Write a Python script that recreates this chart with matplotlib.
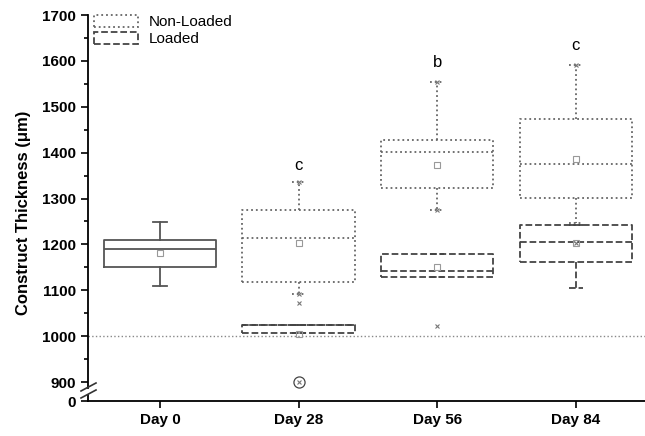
import matplotlib.pyplot as plt
from matplotlib.patches import Patch
from matplotlib.lines import Line2D

plt.rcParams['font.family'] = ['Liberation Sans', 'DejaVu Sans']

days = ["Day 0", "Day 28", "Day 56", "Day 84"]

# Day 0 (control, solid)
ctrl = dict(q1=1150, med=1189, q3=1209, whislo=1109, whishi=1249, mean=1181)

# non-loaded (dotted), days 28, 56, 84
nl_q1 = [1117, 1322, 1302]
nl_med = [1215, 1402, 1376]
nl_q3 = [1274, 1428, 1474]
nl_lo = [1091, 1276, 1246]
nl_hi = [1335, 1554, 1591]
nl_mean = [1204, 1374, 1387]
nl_extremes = [[1335, 1091, 1072], [1554, 1276], [1591]]

# loaded (dashed), days 28, 56, 84
ld_q1 = [1007, 1128, 1161]
ld_med = [1024, 1143, 1206]
ld_q3 = [1024, 1180, 1243]
ld_lo = [1007, 1128, 1104]
ld_hi = [1024, 1180, 1243]
ld_mean = [1005, 1150, 1202]
ld_extremes = [[900], [1022], [1202]]
ld_outliers = [[900], [], []]

letters = ["c", "b", "c"]
letter_y = [1372, 1596, 1633]

fig = plt.figure(figsize=(6.45, 4.36), dpi=100)
ax = fig.add_axes([88/645, 1-388/436, 557/645, 373/436])
axb = fig.add_axes([88/645, 1-401/436, 557/645, 6/436], sharex=ax)

dot_col = '#666666'
dash_col = '#444444'
solid_col = '#555555'
W = 0.81

# reference line at 1000
ax.axhline(1000, color='#888888', ls=':', lw=1.0, zorder=1)

ax.bxp([dict(ctrl, fliers=[])], positions=[0], widths=W, showmeans=True,
       boxprops=dict(color=solid_col, lw=1.3),
       medianprops=dict(color=solid_col, lw=1.3),
       whiskerprops=dict(color=solid_col, lw=1.3),
       capprops=dict(color=solid_col, lw=1.3),
       capwidths=0.1,
       meanprops=dict(marker='s', markersize=4, markerfacecolor='none',
                      markeredgecolor='#999999', markeredgewidth=0.8))

pos = [1, 2, 3]
nl_stats = [dict(q1=nl_q1[i], med=nl_med[i], q3=nl_q3[i], whislo=nl_lo[i],
                 whishi=nl_hi[i], mean=nl_mean[i], fliers=[]) for i in range(3)]
ld_stats = [dict(q1=ld_q1[i], med=ld_med[i], q3=ld_q3[i], whislo=ld_lo[i],
                 whishi=ld_hi[i], mean=ld_mean[i], fliers=ld_outliers[i]) for i in range(3)]

for stats, col, ls in [(nl_stats, dot_col, ':'), (ld_stats, dash_col, '--')]:
    lp = dict(color=col, lw=1.3, ls=ls)
    ax.bxp(stats, positions=pos, widths=W, showmeans=True,
           boxprops=lp, medianprops=lp, whiskerprops=lp, capprops=lp,
           capwidths=0.1,
           flierprops=dict(marker='o', markersize=8, markerfacecolor='none',
                           markeredgecolor='#444444', markeredgewidth=0.9),
           meanprops=dict(marker='s', markersize=4, markerfacecolor='none',
                          markeredgecolor='#999999', markeredgewidth=0.8))

for extremes in [nl_extremes, ld_extremes]:
    for p, vals in zip(pos, extremes):
        ax.plot([p]*len(vals), vals, ls='none', marker='x', markersize=3.5,
                color='#777777', markeredgewidth=0.8)

for p, t, y in zip(pos, letters, letter_y):
    ax.text(p, y, t, ha='center', va='center', fontsize=12)

ax.set_xlim(-0.52, 3.5)
ax.set_ylim(887, 1700)
ax.set_yticks(range(900, 1701, 100))
ax.set_yticks(range(950, 1700, 100), minor=True)
ax.tick_params(axis='y', which='major', length=5, width=1.2, labelsize=11)
ax.tick_params(axis='y', which='minor', length=3, width=1.2)
ax.tick_params(axis='x', bottom=False, labelbottom=False)
for lab in ax.get_yticklabels():
    lab.set_fontweight('bold')
for s in ['top', 'right', 'bottom']:
    ax.spines[s].set_visible(False)
ax.spines['left'].set_linewidth(1.3)
ax.set_ylabel("Construct Thickness (μm)", fontsize=12, fontweight='bold')
ax.yaxis.set_label_coords(-0.102, 0.469)

axb.set_ylim(0, 10)
axb.set_yticks([0])
axb.set_xticks(range(len(days)))
axb.set_xticklabels(days)
axb.tick_params(axis='both', length=5, width=1.2, labelsize=11)
for lab in axb.get_xticklabels() + axb.get_yticklabels():
    lab.set_fontweight('bold')
for s in ['top', 'right']:
    axb.spines[s].set_visible(False)
axb.spines['left'].set_linewidth(1.3)
axb.spines['bottom'].set_linewidth(1.3)
axb.patch.set_visible(False)

# axis break marks
for y0 in [391, 398]:
    fig.add_artist(Line2D([81/645, 96/645], [1-y0/436, 1-(y0-8)/436],
                          color='#333333', lw=1.2))

handles = [Patch(facecolor='none', edgecolor=dot_col, ls=':', lw=1.3, label='Non-Loaded'),
           Patch(facecolor='none', edgecolor=dash_col, ls='--', lw=1.3, label='Loaded')]
ax.legend(handles=handles, loc='upper left', bbox_to_anchor=(-0.009, 1.03),
          frameon=False, fontsize=11, handlelength=2.9, handleheight=0.85,
          labelspacing=0.2, handletextpad=0.7, borderaxespad=0.3)

fig.savefig('out.png', dpi=100)
